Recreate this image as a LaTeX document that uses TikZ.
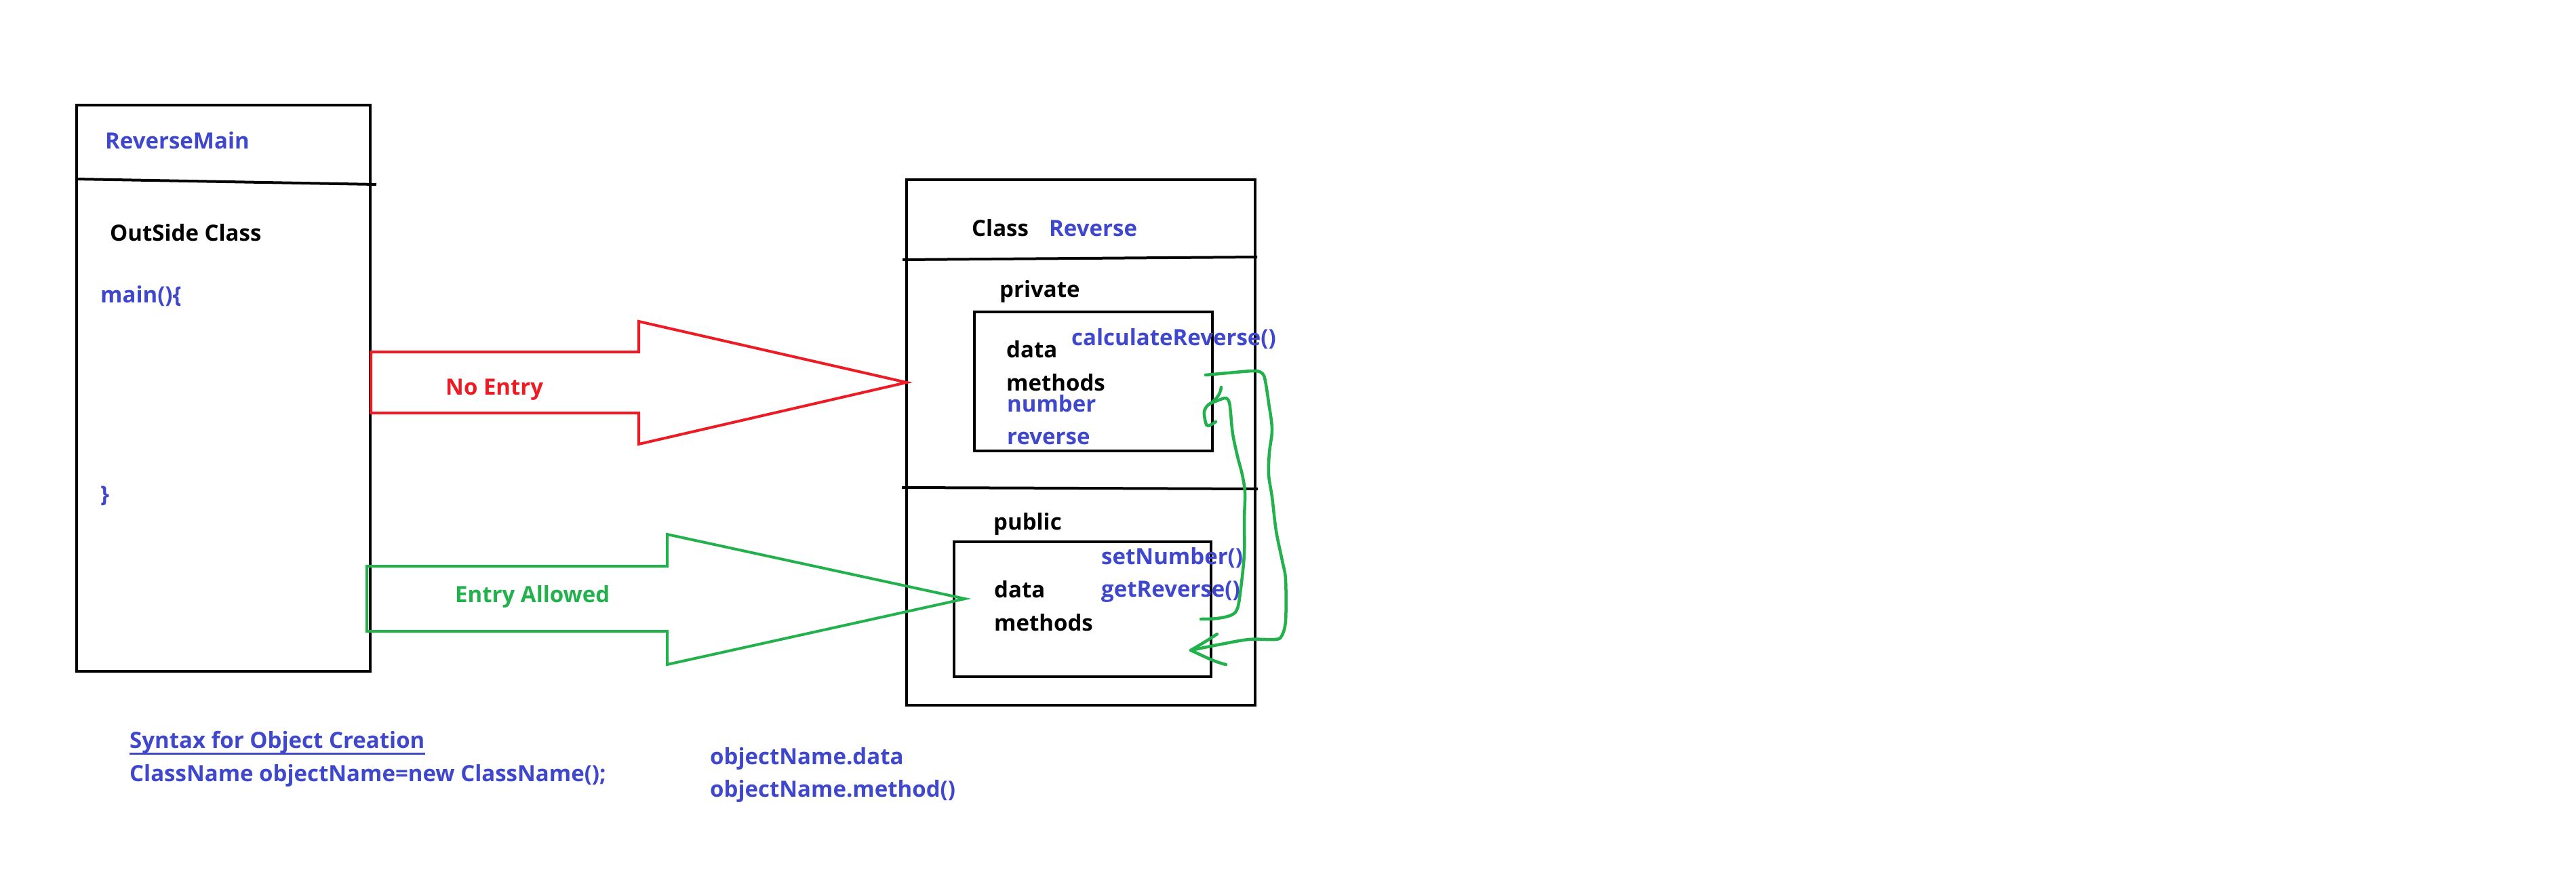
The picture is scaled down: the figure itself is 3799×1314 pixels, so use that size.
\documentclass[tikz,border=0pt]{standalone}
\usepackage{fontspec}
\setmainfont{Open Sans}
\definecolor{ink}{HTML}{3F48CC}
\definecolor{stopred}{HTML}{ED1C24}
\definecolor{gogreen}{HTML}{22B14C}
\begin{document}
\begin{tikzpicture}[x=1pt,y=-1pt,
  lbl/.style={anchor=base west, inner sep=0pt, font=\fontsize{33}{40}\selectfont\bfseries},
  blk/.style={lbl, text=black},
  blu/.style={lbl, text=ink},
  box/.style={draw=black, line width=4pt, inner sep=0pt, anchor=north west},
  rule/.style={draw=black, line width=4pt},
  blockarrow/.style={line width=4pt, line join=miter},
  scribble/.style={draw=gogreen, line width=4.5pt, line cap=round, line join=round}
]
\useasboundingbox (0,0) rectangle (3799,1314);
\fill[white] (0,0) rectangle (3799,1314);

% ---- outside class ----
\node[box, minimum width=433pt, minimum height=835pt] (mainbox) at (111,153) {};
\draw[rule] (mainbox.north west |- 0,264) -- (555,272);
\node[blu] (rmain) at (155,219) {ReverseMain};
\node[blk] (outside) at (162,355) {OutSide Class};
\node[blu] (mainopen) at (148,446) {main()\{};
\node[blu] (mainclose) at (148,740) {\}};

% ---- class Reverse ----
\node[box, minimum width=514pt, minimum height=775pt] (classbox) at (1335,263) {};
\draw[rule] (1331,383) -- (1854,379);
\draw[rule] (1330,719) -- (1855,721);
\node[blk] (classkw) at (1433,348) {Class};
\node[blu] (classname) at (1547,348) {Reverse};

\node[blk] (privlbl) at (1474,438) {private};
\node[box, minimum width=351pt, minimum height=205pt] (privbox) at (1435,458) {};
\node[blk] (pdata) at (1484,527) {data};
\node[blk] (pmeth) at (1484,576) {methods};
\node[blu] (pnum) at (1485,607) {number};
\node[blu] (prev) at (1485,655) {reverse};
\node[blu] (calc) at (1580,509) {calculateReverse()};

\node[blk] (publbl) at (1465,781) {public};
\node[box, minimum width=379pt, minimum height=199pt] (pubbox) at (1405,797) {};
\node[blk] (udata) at (1466,881) {data};
\node[blk] (umeth) at (1466,930) {methods};
\node[blu] (setn) at (1624,832) {setNumber()};
\node[blu] (getr) at (1624,880) {getReverse()};

% ---- access arrows ----
\draw[blockarrow, stopred] (547,519) -- (942,519) -- (942,474) -- (1337,564)
  -- (942,655) -- (942,609) -- (547,609) -- cycle;
\node[lbl, text=stopred] (noentry) at (657,582) {No Entry};

\draw[blockarrow, gogreen] (541,835) -- (984,835) -- (984,788) -- (1423,883)
  -- (984,980) -- (984,931) -- (541,931) -- cycle;
\node[lbl, text=gogreen] (allowed) at (671,888) {Entry Allowed};

% ---- call flow between the sections ----
\coordinate (outA) at (1778,553);
\coordinate (outB) at (1756,959);
\draw[scribble] plot[smooth, tension=0.55] coordinates {
  (outA) (1811,550) (1850,547) (1862,551) (1866,562) (1871,594) (1876,633)
  (1872,667) (1871,700) (1876,733) (1882,783) (1891,827) (1896,855)
  (1896,915) (1890,938) (1880,943) (1842,943) (1801,950) (outB)};
\draw[scribble] (1795,935) .. controls (1780,945) and (1768,952) .. (outB)
  .. controls (1772,966) and (1790,976) .. (1808,980);

\coordinate (inA) at (1771,913);
\coordinate (inB) at (1782,597);
\draw[scribble] plot[smooth, tension=0.55] coordinates {
  (inA) (1795,912) (1816,907) (1825,897) (1830,867) (1835,817) (1835,767)
  (1836,727) (1832,700) (1825,673) (1818,640) (1815,610) (1813,594)
  (1808,587) (1795,591) (inB) (1776,607) (1778,623) (1782,628) (1793,622)};
\draw[scribble] (1801,571) .. controls (1800,580) and (1795,589) .. (inB);

% ---- notes ----
\node[blu] (syn) at (191,1103) {Syntax for Object Creation};
\draw[ink, line width=3pt] ([yshift=-8pt]syn.base west) -- ([yshift=-8pt]syn.base east);
\node[blu] (ctor) at (191,1152) {ClassName objectName=new ClassName();};
\node[blu] (odata) at (1047,1127) {objectName.data};
\node[blu] (ometh) at (1047,1175) {objectName.method()};
\end{tikzpicture}
\end{document}
